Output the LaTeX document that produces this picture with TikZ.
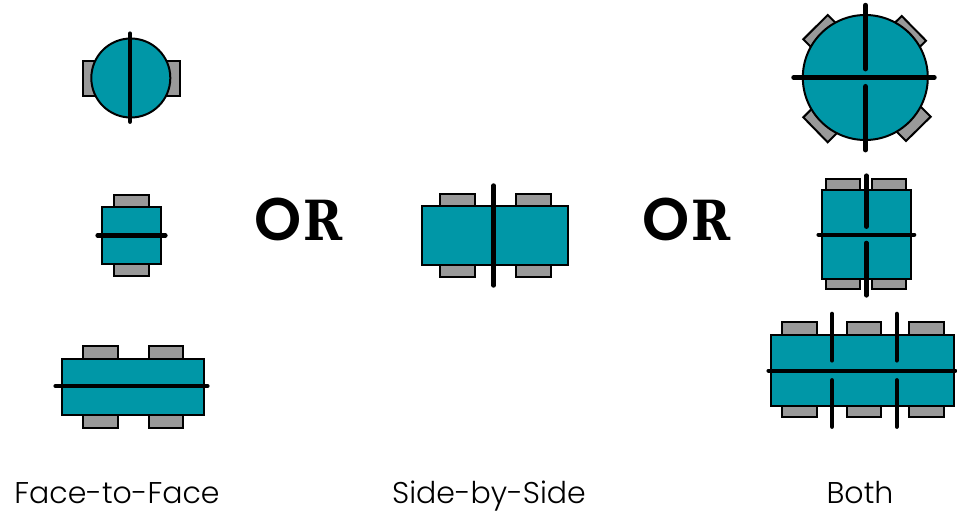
\documentclass[tikz,border=0pt]{standalone}
\usepackage{fontspec}
\setmainfont{Poppins Light}
\newfontfamily\orfonto{Poppins SemiBold}
\newfontfamily\orfont{DejaVu Serif}
\definecolor{tabletop}{HTML}{0097A7}
\definecolor{chair}{HTML}{999999}
\newcommand{\ortext}{{\orfonto\fontsize{45}{46}\selectfont O}\kern1pt{\orfont\bfseries\fontsize{41.5}{46}\selectfont\scalebox{0.85}[1]{R}}}
\tikzset{
  tabletop/.style={draw=black,line width=1.5pt,fill=tabletop},
  seat/.style={draw=black,line width=1.5pt,fill=chair,line join=miter},
  divider/.style={draw=black,line width=3.7pt,line cap=round,shorten >=1.3pt,shorten <=1.3pt},
  divthin/.style={draw=black,line width=3.3pt,line cap=round,shorten >=1.2pt,shorten <=1.2pt},
  caption/.style={font=\fontsize{22.5}{26}\selectfont,text=black,inner sep=0pt,anchor=base},
  orlabel/.style={text=black,inner sep=0pt,anchor=base}
}
\begin{document}
\begin{tikzpicture}[x=0.75pt,y=-0.75pt]
\useasboundingbox (0,0) rectangle (957,514);
% Face-to-face: round
\draw[seat] (82.5,60.7) rectangle (180,96);
\draw[tabletop] (130.8,78) circle [radius=39.5*0.75pt];
\draw[divthin] (130,32) -- (130,123.3);
% Face-to-face: square
\draw[seat] (113.7,194.7) rectangle (149,207.3);
\draw[seat] (113.7,263.7) rectangle (149,276);
\draw[tabletop] (101.7,207.3) rectangle (161,263.7);
\draw[divthin] (96,235.3) -- (167,235.3);
% Face-to-face: long
\draw[seat] (82.5,345.5) rectangle (117.5,358.5);
\draw[seat] (148.5,345.5) rectangle (183,358.5);
\draw[seat] (82.5,415) rectangle (117.5,428);
\draw[seat] (148.5,415) rectangle (183,428);
\draw[tabletop] (62,358.5) rectangle (203.5,415);
\draw[divthin] (54,386) -- (209,386);
% OR
\node[orlabel] (or1) at (298.5,240) {\ortext};
\node[orlabel] (or2) at (686.5,240) {\ortext};
% Side-by-side
\draw[seat] (440.3,194.3) rectangle (474.7,206);
\draw[seat] (516.3,194.3) rectangle (551,206);
\draw[seat] (440.3,264.7) rectangle (474.7,277.3);
\draw[seat] (516.3,264.7) rectangle (551,277.3);
\draw[tabletop] (422,206) rectangle (567.7,264.7);
\draw[divider] (493.7,184) -- (493.7,287);
% Both: round
\draw[seat] (803.3,39.3) -- (827.7,15) -- (847,34) -- (822.6,58.6) -- cycle;
\draw[seat] (901.7,16) -- (926,40.7) -- (906.5,60) -- (882,35.5) -- cycle;
\draw[seat] (803.3,117.3) -- (827.7,142.3) -- (847,123) -- (822.6,98) -- cycle;
\draw[seat] (930.7,116.7) -- (906,141) -- (887,122) -- (911.5,97.5) -- cycle;
\draw[tabletop] (865.3,77.5) circle [radius=62.5*0.75pt];
\draw[divider] (865.5,3.5) -- (865.5,70.7);
\draw[divider] (865.5,84.7) -- (865.5,151.7);
\draw[divider] (792,77.5) -- (936,77.5);
% Both: square
\draw[seat] (826,178.7) rectangle (860.3,190.3);
\draw[seat] (871.7,178.7) rectangle (906,190.3);
\draw[seat] (826,278.7) rectangle (860.3,289.3);
\draw[seat] (871.7,278.7) rectangle (906,289.3);
\draw[tabletop] (821.7,190.3) rectangle (911,278.7);
\draw[divthin] (866.3,174) -- (866.3,228.3);
\draw[divthin] (866.3,241.3) -- (866.3,297);
\draw[divthin] (817,234.7) -- (915.7,234.7);
% Both: long
\draw[seat] (782.3,322.3) rectangle (816.7,334.7);
\draw[seat] (847,322.3) rectangle (881.3,334.7);
\draw[seat] (909.3,322.3) rectangle (943.7,334.7);
\draw[seat] (782.3,406.3) rectangle (816.7,417.3);
\draw[seat] (847,406.3) rectangle (881.3,417.3);
\draw[seat] (909.3,406.3) rectangle (943.7,417.3);
\draw[tabletop] (771.3,334.7) rectangle (954,406.3);
\draw[divthin] (832,312.3) -- (832,362);
\draw[divthin] (832,378.7) -- (832,428.3);
\draw[divthin] (896.7,312.3) -- (896.7,362);
\draw[divthin] (896.7,378.7) -- (896.7,428.3);
\draw[divthin] (767,370.7) -- (956.7,370.7);
% Captions
\node[caption] (c1) at (117,503.5) {Face-to-Face};
\node[caption] (c2) at (489,503.5) {Side-by-Side};
\node[caption] (c3) at (860,503.5) {Both};
\end{tikzpicture}
\end{document}
